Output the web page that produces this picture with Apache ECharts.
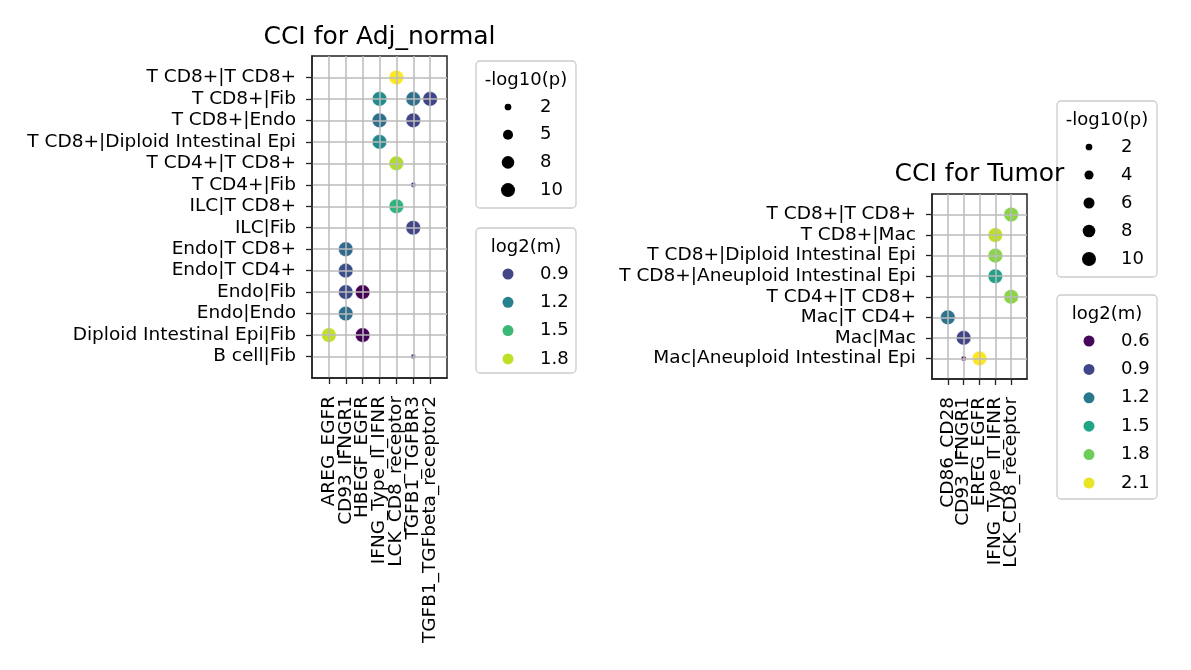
<!DOCTYPE html>
<html>
<head>
<meta charset="utf-8">
<script src="https://cdn.jsdelivr.net/npm/echarts@6/dist/echarts.min.js"></script>
<style>
  html, body { margin: 0; padding: 0; background: #fff; }
  #chart { width: 1191px; height: 670px; }
</style>
</head>
<body>
<div id="chart"></div>
<script>
  // Adj_normal panel
  const adjPairs = ['T CD8+|T CD8+', 'T CD8+|Fib', 'T CD8+|Endo', 'T CD8+|Diploid Intestinal Epi',
    'T CD4+|T CD8+', 'T CD4+|Fib', 'ILC|T CD8+', 'ILC|Fib', 'Endo|T CD8+', 'Endo|T CD4+',
    'Endo|Fib', 'Endo|Endo', 'Diploid Intestinal Epi|Fib', 'B cell|Fib']
  const adjLR = ['AREG_EGFR', 'CD93_IFNGR1', 'HBEGF_EGFR', 'IFNG_Type_II_IFNR',
    'LCK_CD8_receptor', 'TGFB1_TGFBR3', 'TGFB1_TGFbeta_receptor2']
  const adjRow = [0, 1, 1, 1, 2, 2, 3, 4, 5, 6, 7, 8, 9, 10, 10, 11, 12, 12, 13]
  const adjCol = [4, 3, 5, 6, 3, 5, 3, 4, 5, 4, 5, 1, 1, 1, 2, 1, 0, 2, 5]
  const adjLog2m = [1.93, 1.25, 1.11, 0.89, 1.10, 0.89, 1.24, 1.77, 0.78, 1.47, 0.89, 1.08, 0.95, 0.92, 0.63, 1.10, 1.81, 0.64, 0.85]
  const adjNegLogP = [11, 11, 11, 11, 11, 11, 11, 11, 1.0, 11, 11, 11, 11, 11, 11, 11, 11, 11, 0.9]
  const adjSizeTicks = [2, 5, 8, 10]
  const adjColorTicks = [0.9, 1.2, 1.5, 1.8]

  // Tumor panel
  const tumPairs = ['T CD8+|T CD8+', 'T CD8+|Mac', 'T CD8+|Diploid Intestinal Epi',
    'T CD8+|Aneuploid Intestinal Epi', 'T CD4+|T CD8+', 'Mac|T CD4+', 'Mac|Mac',
    'Mac|Aneuploid Intestinal Epi']
  const tumLR = ['CD86_CD28', 'CD93_IFNGR1', 'EREG_EGFR', 'IFNG_Type_II_IFNR', 'LCK_CD8_receptor']
  const tumRow = [0, 1, 2, 3, 4, 5, 6, 7, 7]
  const tumCol = [4, 3, 3, 3, 4, 0, 1, 1, 2]
  const tumLog2m = [1.87, 1.99, 1.87, 1.47, 1.87, 1.17, 0.89, 0.57, 2.15]
  const tumNegLogP = [11, 11, 11, 11, 11, 11, 11, 1.0, 11]
  const tumSizeTicks = [2, 4, 6, 8, 10]
  const tumColorTicks = [0.6, 0.9, 1.2, 1.5, 1.8, 2.1]

  const FONT = '"DejaVu Sans", sans-serif'

  // viridis colormap
  const viridisStops = ['#440154', '#482475', '#414487', '#355f8d', '#2a788e', '#21918c',
    '#22a884', '#44bf70', '#7ad151', '#bddf26', '#fde725']
  const hex = h => [1, 3, 5].map(i => parseInt(h.slice(i, i + 2), 16))
  function viridis(t) {
    t = Math.max(0, Math.min(1, t))
    const f = t * (viridisStops.length - 1)
    const i = Math.min(Math.floor(f), viridisStops.length - 2)
    const a = hex(viridisStops[i]), b = hex(viridisStops[i + 1])
    const k = f - i
    return 'rgb(' + a.map((v, j) => Math.round(v + (b[j] - v) * k)).join(',') + ')'
  }
  // marker area grows linearly with -log10(p)
  const dotSize = v => Math.sqrt(7.25 + 18.9 * v)

  const range = arr => [Math.min(...arr), Math.max(...arr)]
  const adjRange = range(adjLog2m)
  const tumRange = range(tumLog2m)
  const colorOf = (v, r) => viridis((v - r[0]) / (r[1] - r[0]))

  // one empty slot at each end gives the matplotlib-like margin
  const padded = labels => ['', ...labels, '']
  const notPad = (i, v) => v !== ''

  function axisFor(grid, labels, isY) {
    const ax = {
      gridIndex: grid, type: 'category', data: padded(labels), boundaryGap: false, z: 3,
      axisLine: { show: true, onZero: false, lineStyle: { color: '#222', width: 1.5 } },
      axisTick: { show: true, interval: notPad, length: 6, lineStyle: { color: '#222', width: 1.3 } },
      axisLabel: {
        interval: 0, hideOverlap: false, margin: isY ? 16 : 18, rotate: isY ? 0 : 90,
        color: '#000', fontFamily: FONT, fontSize: 18.5
      },
      splitLine: { show: true, interval: notPad, lineStyle: { color: '#bbbbbb', width: 1.5 } }
    }
    if (isY) ax.inverse = true
    return ax
  }
  function dotSeries(grid, lr, pairs, cols, rows, m, p, r) {
    return {
      type: 'scatter', xAxisIndex: grid, yAxisIndex: grid,
      data: cols.map((c, i) => [lr[c], pairs[rows[i]], m[i], p[i]]),
      symbolSize: d => dotSize(d[3]),
      itemStyle: { color: o => colorOf(o.data[2], r), borderColor: '#fff', borderWidth: 0.5, opacity: 1 },
      emphasis: { disabled: true }
    }
  }

  // legend box: title, then one row per item
  function legendBox(x, y, w, h, title, items, step) {
    const kids = [
      { type: 'rect', shape: { x: x, y: y, width: w, height: h, r: 4 },
        style: { fill: 'rgba(255,255,255,0.8)', stroke: '#cccccc', lineWidth: 1.3 } },
      { type: 'text', style: { text: title, x: x + w / 2, y: y + 19, font: '18px ' + FONT, fill: '#000',
        textAlign: 'center', textVerticalAlign: 'middle', align: 'center', verticalAlign: 'middle' } }
    ]
    items.forEach((it, i) => {
      const cy = y + 46 + step * i
      kids.push({ type: 'circle', shape: { cx: x + 32, cy: cy, r: it.d / 2 }, style: { fill: it.color } })
      kids.push({ type: 'text', style: { text: String(it.label), x: x + 64, y: cy, font: '18px ' + FONT, fill: '#000',
        textAlign: 'left', textVerticalAlign: 'middle', align: 'left', verticalAlign: 'middle' } })
    })
    return { type: 'group', z: 100, children: kids }
  }

  const sizeItems = ticks => ticks.map(t => ({ d: dotSize(t), color: '#000', label: t }))
  const colorItems = (ticks, r) => ticks.map(t => ({ d: 11, color: colorOf(t, r), label: t.toFixed(1) }))

  const chart = echarts.init(document.getElementById('chart'))
  chart.setOption({
    animation: false,
    title: [
      { text: 'CCI for Adj_normal', left: 374.5, textAlign: 'center', top: 20,
        textStyle: { fontFamily: FONT, fontSize: 25, fontWeight: 'normal', color: '#000' } },
      { text: 'CCI for Tumor', left: 974.5, textAlign: 'center', top: 157,
        textStyle: { fontFamily: FONT, fontSize: 25, fontWeight: 'normal', color: '#000' } }
    ],
    grid: [
      { left: 312, top: 56, width: 135, height: 322, show: true, borderColor: '#222', borderWidth: 1.5 },
      { left: 932, top: 194, width: 95, height: 185, show: true, borderColor: '#222', borderWidth: 1.5 }
    ],
    xAxis: [axisFor(0, adjLR, false), axisFor(1, tumLR, false)],
    yAxis: [axisFor(0, adjPairs, true), axisFor(1, tumPairs, true)],
    series: [
      dotSeries(0, adjLR, adjPairs, adjCol, adjRow, adjLog2m, adjNegLogP, adjRange),
      dotSeries(1, tumLR, tumPairs, tumCol, tumRow, tumLog2m, tumNegLogP, tumRange)
    ],
    graphic: [
      legendBox(476, 61, 100, 147, '-log10(p)', sizeItems(adjSizeTicks), 27.7),
      legendBox(476, 228, 100, 145, 'log2(m)', colorItems(adjColorTicks, adjRange), 28.3),
      legendBox(1057, 101, 100, 176, '-log10(p)', sizeItems(tumSizeTicks), 28),
      legendBox(1057, 295, 100, 204, 'log2(m)', colorItems(tumColorTicks, tumRange), 28.4)
    ]
  })
</script>
</body>
</html>
